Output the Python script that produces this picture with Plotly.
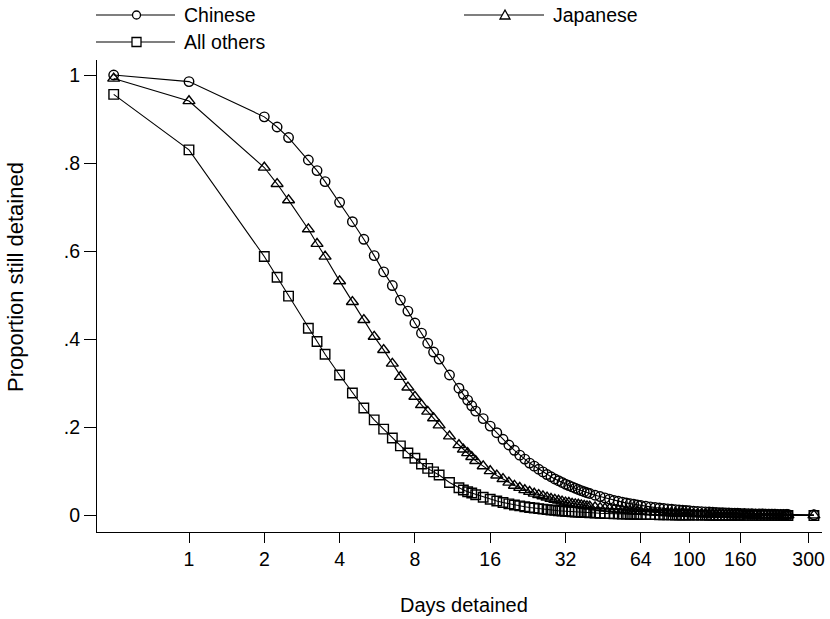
import math
import plotly.graph_objects as go

# ---------------- data ----------------
days = [0.5, 1, 2, 2.25, 2.5, 3, 3.25, 3.5, 4, 4.5,
        5, 5.5, 6, 6.5, 7, 7.5, 8, 8.5, 9, 9.5,
        10, 11, 12, 12.5, 13, 13.5, 14, 15, 16, 17, 18, 19, 20,
        21, 22, 23, 24, 25, 26, 27, 28, 29, 30,
        31, 32, 33, 34, 35, 36, 37, 38, 39, 40,
        42, 44, 46, 48, 50, 52, 54, 56, 58, 60, 62, 64,
        67, 70, 73, 76, 79, 82, 85, 88, 91, 94, 97, 100,
        104, 108, 112, 116, 120, 124, 128, 132, 136, 140, 144, 148, 152, 156, 160,
        166, 172, 178, 184, 190, 196, 202, 208, 214, 220, 226, 232, 238, 244,
        248, 315]

chinese = [1.000, 0.985, 0.905, 0.882, 0.858, 0.807, 0.783, 0.758, 0.711, 0.667,
           0.627, 0.590, 0.553, 0.522, 0.489, 0.464, 0.437, 0.414, 0.391, 0.371,
           0.355, 0.319, 0.289, 0.275, 0.262, 0.249, 0.237, 0.220, 0.203, 0.188, 0.173, 0.160, 0.148,
           0.137, 0.128, 0.119, 0.112, 0.105, 0.099, 0.093, 0.088, 0.083, 0.079,
           0.075, 0.071, 0.068, 0.065, 0.062, 0.059, 0.0565, 0.054, 0.0518, 0.050,
           0.046, 0.043, 0.040, 0.037, 0.034, 0.0323, 0.0303, 0.0285, 0.0269, 0.0254, 0.0240, 0.0228,
           0.0211, 0.0196, 0.0183, 0.0171, 0.0160, 0.0150, 0.0141, 0.0133, 0.0126, 0.0119, 0.0113, 0.0107,
           0.0100, 0.0094, 0.0088, 0.0083, 0.0078, 0.0074, 0.0070, 0.0066, 0.0063, 0.0060, 0.0057, 0.0055, 0.0052, 0.0050, 0.0048,
           0.0045, 0.0042, 0.0040, 0.0037, 0.0036, 0.0034, 0.0032, 0.0030, 0.0029, 0.0028, 0.0026, 0.0025, 0.0024, 0.0023,
           0.0023, 0.0016]

japanese = [0.992, 0.941, 0.790, 0.753, 0.716, 0.650, 0.617, 0.588, 0.532, 0.485,
            0.444, 0.406, 0.376, 0.345, 0.315, 0.291, 0.270, 0.251, 0.236, 0.221,
            0.205, 0.180, 0.160, 0.150, 0.142, 0.133, 0.124, 0.112, 0.101, 0.091, 0.083, 0.075, 0.068,
            0.063, 0.058, 0.054, 0.050, 0.047, 0.044, 0.041, 0.038, 0.036, 0.034,
            0.032, 0.030, 0.029, 0.027, 0.026, 0.025, 0.0236, 0.0225, 0.0215, 0.0205,
            0.0188, 0.0173, 0.0160, 0.0149, 0.0138, 0.0129, 0.0120, 0.0113, 0.0106, 0.0100, 0.0094, 0.0089,
            0.0083, 0.0076, 0.0071, 0.0066, 0.0061, 0.0057, 0.0054, 0.0050, 0.0047, 0.0045, 0.0042, 0.0040,
            0.0037, 0.0035, 0.0033, 0.0031, 0.0029, 0.0027, 0.0026, 0.0024, 0.0023, 0.0022, 0.0021, 0.0020, 0.0019, 0.0018, 0.0017,
            0.0016, 0.0015, 0.0014, 0.0013, 0.00125, 0.0012, 0.0011, 0.00106, 0.0010, 0.00096, 0.00092, 0.00087, 0.00083, 0.0008,
            0.00078, 0.0005]

all_others = [0.956, 0.830, 0.588, 0.541, 0.498, 0.425, 0.395, 0.366, 0.319, 0.278,
              0.244, 0.217, 0.196, 0.176, 0.158, 0.142, 0.130, 0.117, 0.107, 0.099,
              0.092, 0.075, 0.063, 0.058, 0.054, 0.051, 0.047, 0.0415, 0.0368, 0.0328, 0.0294, 0.0265, 0.0240,
              0.0219, 0.0200, 0.0183, 0.0169, 0.0156, 0.0145, 0.0134, 0.0125, 0.0117, 0.0109,
              0.0103, 0.0097, 0.0091, 0.0085, 0.0081, 0.0076, 0.0073, 0.0068, 0.0066, 0.0062,
              0.0056, 0.0051, 0.0047, 0.0043, 0.0040, 0.0037, 0.0035, 0.0032, 0.0030, 0.0028, 0.0026, 0.0024,
              0.0023, 0.0021, 0.0019, 0.0018, 0.0016, 0.0015, 0.0014, 0.0013, 0.00124, 0.00116, 0.0011, 0.00103,
              0.00095, 0.00089, 0.00082, 0.00077, 0.00072, 0.00067, 0.00063, 0.0006, 0.00056, 0.00053, 0.0005, 0.00048, 0.00045, 0.00043, 0.00041,
              0.00038, 0.00035, 0.00033, 0.00031, 0.00029, 0.00027, 0.00026, 0.00024, 0.00023, 0.00022, 0.00021, 0.0002, 0.00019, 0.00018,
              0.00017, 0.0001]

x_tickvals = [1, 2, 4, 8, 16, 32, 64, 100, 160, 300]
x_ticktext = ["1", "2", "4", "8", "16", "32", "64", "100", "160", "300"]
y_tickvals = [0, 0.2, 0.4, 0.6, 0.8, 1]
y_ticktext = ["0", ".2", ".4", ".6", ".8", "1"]

series_names = ["Chinese", "Japanese", "All others"]
series_values = [chinese, japanese, all_others]
series_symbols = ["circle-open", "triangle-up-open", "square-open"]

# ---------------- figure ----------------
FONT = "Liberation Sans, Arial, Helvetica, sans-serif"
W, H = 830, 619
ML, MR, MT, MB = 97, 8, 60, 87
PW, PH = W - ML - MR, H - MT - MB

fig = go.Figure()
sizes = [9.5, 10.5, 9.5]
for name, vals, sym, sz in zip(series_names, series_values, series_symbols, sizes):
    fig.add_trace(go.Scatter(
        x=days, y=vals, name=name, mode="lines+markers",
        line=dict(color="black", width=1.1),
        marker=dict(symbol=sym, size=sz, color="black", line=dict(color="black", width=1.4)),
        cliponaxis=False, showlegend=False, hoverinfo="skip",
    ))


def px2paper(px, py):
    return (px - ML) / PW, (H - MB - py) / PH


# custom legend (Stata style: long line with the marker in the middle)
legend_items = [("Chinese", "circle", 96, 175, 15),
                ("Japanese", "triangle", 464, 544, 15),
                ("All others", "square", 96, 175, 42)]
shapes = []
annotations = []
for name, kind, x0p, x1p, yp in legend_items:
    ax0, ay = px2paper(x0p, yp)
    ax1, _ = px2paper(x1p, yp)
    shapes.append(dict(type="line", xref="paper", yref="paper", x0=ax0, x1=ax1, y0=ay, y1=ay,
                       line=dict(color="black", width=1.1)))
    cx, _ = px2paper((x0p + x1p) / 2 + 1, yp)
    common = dict(xref="paper", yref="paper", xsizemode="pixel", ysizemode="pixel",
                  xanchor=cx, yanchor=ay, fillcolor="white", line=dict(color="black", width=1.3))
    if kind == "circle":
        shapes.append(dict(type="circle", x0=-4, x1=4, y0=-4, y1=4, **common))
    elif kind == "square":
        shapes.append(dict(type="rect", x0=-4.5, x1=4.5, y0=-4.5, y1=4.5, **common))
    else:
        shapes.append(dict(type="path", path="M -5,-4 L 5,-4 L 0,5 Z", **common))
    tx, _ = px2paper(x1p + 7, yp)
    annotations.append(dict(text=name, xref="paper", yref="paper", x=tx, y=ay,
                            xanchor="left", yanchor="middle", showarrow=False,
                            font=dict(family=FONT, size=19.5, color="black")))

# axis titles
tx, ty = px2paper(464, 605)
annotations.append(dict(text="Days detained", xref="paper", yref="paper", x=tx, y=ty,
                        xanchor="center", yanchor="middle", showarrow=False,
                        font=dict(family=FONT, size=20, color="black")))
tx, ty = px2paper(15, 277)
annotations.append(dict(text="Proportion still detained", xref="paper", yref="paper", x=tx, y=ty,
                        xanchor="center", yanchor="middle", showarrow=False, textangle=-90,
                        font=dict(family=FONT, size=22, color="black")))

xr = [math.log10(2 ** ((ML - 189) / 75.3)), math.log10(2 ** ((W - MR - 189) / 75.3))]
yr = [(515.5 - (H - MB)) / 440.5, (515.5 - MT) / 440.5]

fig.update_layout(
    width=W, height=H,
    margin=dict(l=ML, r=MR, t=MT, b=MB, pad=0, autoexpand=False),
    paper_bgcolor="white", plot_bgcolor="white",
    font=dict(family=FONT, size=19.5, color="black"),
    shapes=shapes, annotations=annotations,
    showlegend=False,
    xaxis=dict(type="log", range=xr, tickvals=x_tickvals, ticktext=x_ticktext,
               showgrid=False, zeroline=False, showline=True, linecolor="black", linewidth=1,
               ticks="outside", ticklen=10, tickcolor="black", tickwidth=1,
               tickfont=dict(family=FONT, size=19.5), automargin=False),
    yaxis=dict(range=yr, tickvals=y_tickvals, ticktext=y_ticktext,
               showgrid=False, zeroline=False, showline=True, linecolor="black", linewidth=1,
               ticks="outside", ticklen=12, tickcolor="black", tickwidth=1,
               tickfont=dict(family=FONT, size=19.5), automargin=False),
)

fig.write_html("out.html", config={"displayModeBar": False, "staticPlot": True})

# remove the browser's default page margin so the figure sits at (0, 0)
with open("out.html", "r", encoding="utf-8") as f:
    html = f.read()
html = html.replace("<head>", "<head><style>html,body{margin:0;padding:0;overflow:hidden;}</style>", 1)
with open("out.html", "w", encoding="utf-8") as f:
    f.write(html)
